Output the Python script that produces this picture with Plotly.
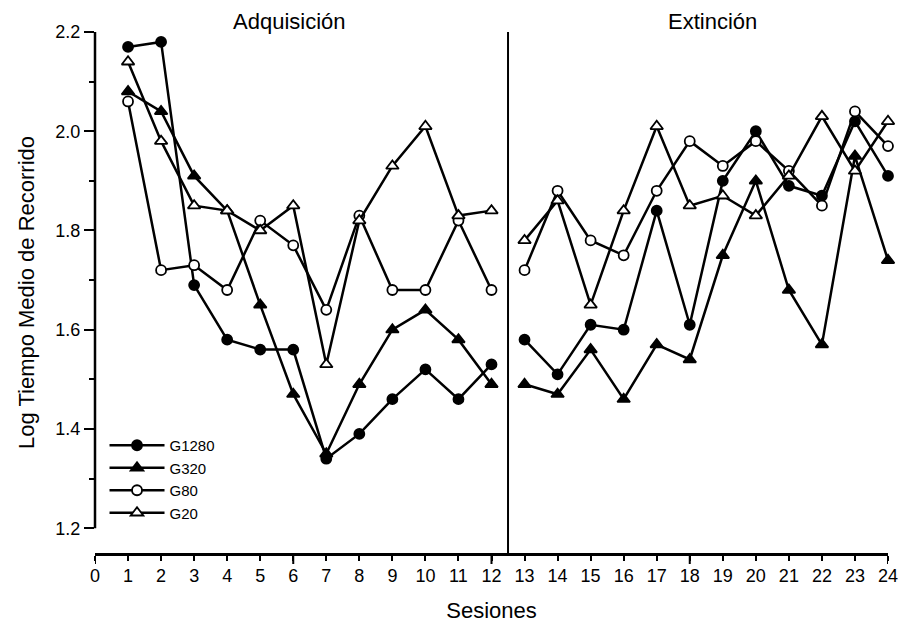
import plotly.graph_objects as go

sessions = list(range(1, 25))
g1280 = [2.17, 2.18, 1.69, 1.58, 1.56, 1.56, 1.34, 1.39, 1.46, 1.52, 1.46, 1.53,
         1.58, 1.51, 1.61, 1.60, 1.84, 1.61, 1.90, 2.00, 1.89, 1.87, 2.02, 1.91]
g320 = [2.08, 2.04, 1.91, 1.84, 1.65, 1.47, 1.35, 1.49, 1.60, 1.64, 1.58, 1.49,
        1.49, 1.47, 1.56, 1.46, 1.57, 1.54, 1.75, 1.90, 1.68, 1.57, 1.95, 1.74]
g80 = [2.06, 1.72, 1.73, 1.68, 1.82, 1.77, 1.64, 1.83, 1.68, 1.68, 1.82, 1.68,
       1.72, 1.88, 1.78, 1.75, 1.88, 1.98, 1.93, 1.98, 1.92, 1.85, 2.04, 1.97]
g20 = [2.14, 1.98, 1.85, 1.84, 1.80, 1.85, 1.53, 1.82, 1.93, 2.01, 1.83, 1.84,
       1.78, 1.86, 1.65, 1.84, 2.01, 1.85, 1.87, 1.83, 1.91, 2.03, 1.92, 2.02]

y_ticks = [1.2, 1.4, 1.6, 1.8, 2.0, 2.2]
y_labels = ["1.2", "1.4", "1.6", "1.8", "2.0", "2.2"]
y_minor = [1.3, 1.5, 1.7, 1.9, 2.1]
x_ticks = list(range(0, 25))
x_long_ticks = [0, 6, 12, 18, 24]

FONT = "Liberation Sans, Arial, sans-serif"

series = [
    ("G1280", g1280, "circle", "black", 10),
    ("G320", g320, "triangle-up", "black", 11),
    ("G80", g80, "circle", "white", 10),
    ("G20", g20, "triangle-up", "white", 11),
]

fig = go.Figure()
for name, vals, sym, fill, size in series:
    for seg, xs in (("a", sessions[:12]), ("b", sessions[12:])):
        ys = vals[:12] if seg == "a" else vals[12:]
        fig.add_trace(go.Scatter(
            x=xs, y=ys, mode="lines+markers", name=name,
            legendgroup=name, showlegend=(seg == "a"),
            line=dict(color="black", width=2.5),
            marker=dict(symbol=sym, size=size, color=fill,
                        line=dict(color="black", width=1.8)),
            cliponaxis=False,
        ))

shapes = [
    dict(type="line", xref="paper", yref="y", x0=0, x1=0, y0=1.2, y1=2.2,
         line=dict(color="black", width=2.5)),
    dict(type="line", xref="x", yref="paper", x0=12.5, x1=12.5, y0=0, y1=1,
         line=dict(color="black", width=2)),
]
for xv in x_long_ticks:
    shapes.append(dict(type="line", xref="x", yref="paper", x0=xv, x1=xv,
                       y0=0, y1=-11 / 521, line=dict(color="black", width=2)))

fig.update_layout(
    template="none",
    width=899, height=626,
    margin=dict(l=95, r=11, t=32, b=73, autoexpand=False),
    plot_bgcolor="white", paper_bgcolor="white",
    font=dict(family=FONT, color="black", size=18),
    showlegend=True,
    legend=dict(x=0.012, y=0.238, xanchor="left", yanchor="top",
                bgcolor="rgba(0,0,0,0)", borderwidth=0,
                font=dict(size=15, family=FONT, color="black"),
                tracegroupgap=0, itemwidth=55),
    xaxis=dict(range=[0, 24], tickvals=x_ticks, ticktext=[str(v) for v in x_ticks],
               automargin=False,
               showline=True, linecolor="black", linewidth=2.5,
               ticks="outside", ticklen=5, tickwidth=2, tickcolor="black",
               showgrid=False, zeroline=False,
               tickfont=dict(size=18, family=FONT, color="black"),
               title=dict(text="Sesiones", font=dict(size=22, family=FONT, color="black"),
                          standoff=18)),
    yaxis=dict(range=[1.15, 2.2], tickvals=y_ticks, ticktext=y_labels,
               automargin=False,
               showline=False, ticks="outside", ticklen=10, tickwidth=2, tickcolor="black",
               showgrid=False, zeroline=False,
               minor=dict(tickvals=y_minor, ticks="outside", ticklen=5, tickwidth=2,
                          tickcolor="black", showgrid=False),
               tickfont=dict(size=18, family=FONT, color="black"),
               title=dict(text="Log Tiempo Medio de Recorrido",
                          font=dict(size=22, family=FONT, color="black"), standoff=14)),
    shapes=shapes,
    annotations=[
        dict(text="Adquisición", x=5.9, y=1.02, xref="x", yref="paper",
             showarrow=False, font=dict(size=22, family=FONT, color="black"),
             yanchor="middle"),
        dict(text="Extinción", x=18.7, y=1.02, xref="x", yref="paper",
             showarrow=False, font=dict(size=22, family=FONT, color="black"),
             yanchor="middle"),
    ],
)

fig.write_html("out.html")
